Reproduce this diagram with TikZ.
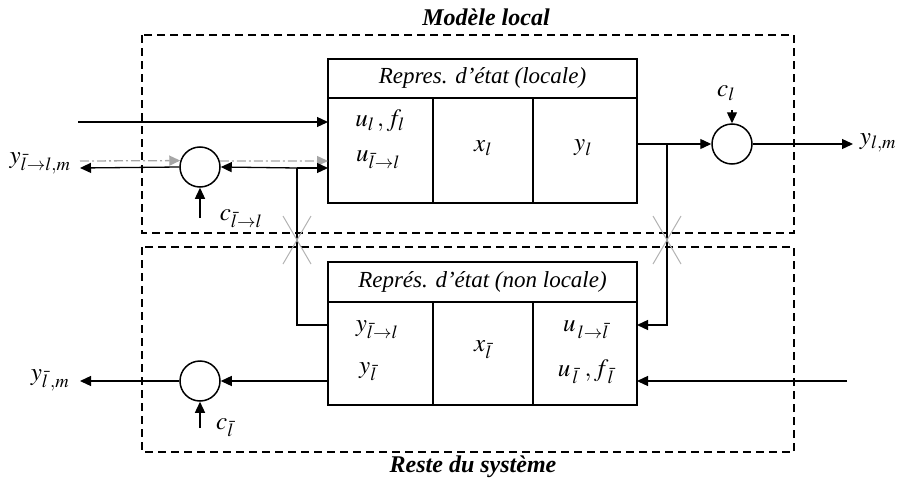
\documentclass[tikz,border=0pt]{standalone}
\usepackage[no-math]{fontspec}
\usepackage{mathptmx}
\setmainfont{Liberation Serif}
\usetikzlibrary{arrows.meta}
\tikzset{
  wire/.style={line width=1.3pt},
  arr/.style={wire,-{Triangle[length=11pt,width=10pt]}},
  garr/.style={line width=1.3pt,gray!70,dash pattern=on 9pt off 3pt on 2pt off 3pt,-{Triangle[length=11pt,width=10pt]}},
  frame/.style={line width=2pt,dash pattern=on 8pt off 5pt},
  blk/.style={draw,line width=1.3pt,minimum width=309pt,inner sep=0pt},
  sumnode/.style={circle,draw,line width=1.5pt,minimum size=40pt,inner sep=0pt},
  cross/.style={gray!60,line width=1pt},
  lbl/.style={inner sep=1pt,font=\fontsize{25}{29}\selectfont},
  ttl/.style={inner sep=1pt,font=\fontsize{23}{27}\selectfont\itshape},
  hd/.style={inner sep=1pt,font=\fontsize{24}{28}\selectfont\bfseries\itshape}
}
\begin{document}
\begin{tikzpicture}[x=1pt,y=-1pt]
\useasboundingbox (0,0) rectangle (900,479);
% dashed frames
\draw[frame] (142,35) rectangle (794,233);
\draw[frame] (142,247) rectangle (794,452);
\node[hd] (hm) at (486,17) {Modèle local};
\node[hd] (hr) at (473,467) {Reste du système};
% top block
\node[blk,minimum height=144pt] (tb) at (482.5,131) {};
\draw[line width=1.8pt] (328,98) -- (637,98);
\draw[line width=1.8pt] (433,98) -- (433,203);
\draw[line width=1.8pt] (533,98) -- (533,203);
\node[ttl] (tbt) at (482.5,78) {Repres. d’état (locale)};
\node[lbl] (t1) at (380,121) {$u_l\,, f_l$};
\node[lbl] (t2) at (378,160) {$u_{\bar{l}\to l}$};
\node[lbl] (t3) at (483,148) {$x_l$};
\node[lbl] (t4) at (583,148) {$y_l$};
% bottom block
\node[blk,minimum height=143pt] (bb) at (482.5,333.5) {};
\draw[line width=1.8pt] (328,302) -- (637,302);
\draw[line width=1.8pt] (433,302) -- (433,405);
\draw[line width=1.8pt] (533,302) -- (533,405);
\node[ttl] (bbt) at (482.5,282) {Représ. d’état (non locale)};
\node[lbl] (b1) at (377,330) {$y_{\bar{l}\to l}$};
\node[lbl] (b2) at (368,372) {$y_{\bar{l}}$};
\node[lbl] (b3) at (483,350) {$x_{\bar{l}}$};
\node[lbl] (b4) at (586,330) {$u_{\,l\to \bar{l}}$};
\node[lbl] (b5) at (586,372) {$u_{\,\bar{l}}\;, f_{\,\bar{l}}$};
% summing junctions
\node[sumnode] (c1) at (200,167) {};
\node[sumnode] (c2) at (732,144) {};
\node[sumnode] (c3) at (200,381) {};
% coordinates
\coordinate (inA) at (78,122);
\coordinate (tbA) at (328,122);
\coordinate (tbB) at (328,168);
\coordinate (tbG) at (328,161);
\coordinate (gL) at (80,161);
\coordinate (oL) at (80,168);
\coordinate (j1) at (297,168);
\coordinate (j1b) at (297,325);
\coordinate (bbA) at (328,325);
\coordinate (cin1) at (200,218);
\coordinate (tbO) at (637,144);
\coordinate (j2) at (667,144);
\coordinate (j2b) at (667,325);
\coordinate (bbR) at (637,325);
\coordinate (cin2) at (732,110);
\coordinate (oR) at (853,144);
\coordinate (inR) at (847,381);
\coordinate (bbF) at (637,381);
\coordinate (bbL) at (328,381);
\coordinate (oL2) at (80,381);
\coordinate (cin3) at (200,428);
% connectors
\draw[arr] (inA) -- (tbA);
\draw[garr] (gL) -- (c1.162.5);
\draw[garr] (c1.17.5) -- (tbG);
\draw[arr] (c1.west) -- (oL);
\draw[arr] (j1) -- (c1.east);
\draw[arr] (j1) -- (tbB);
\draw[wire] (bbA) -- (j1b) -- (j1);
\draw[arr] (cin1) -- (c1.south);
\draw[arr] (tbO) -- (c2.west);
\draw[arr] (j2) -- (j2b) -- (bbR);
\draw[arr] (cin2) -- (c2.north);
\draw[arr] (c2.east) -- (oR);
\draw[arr] (inR) -- (bbF);
\draw[arr] (bbL) -- (c3.east);
\draw[arr] (c3.west) -- (oL2);
\draw[arr] (cin3) -- (c3.south);
% crossing marks
\draw[cross] (283,216) -- (311,264) (311,216) -- (283,264);
\draw[cross] (653,216) -- (681,264) (681,216) -- (653,264);
% labels
\node[lbl] (ly1) at (40,163) {$y_{\bar{l}\to l,m}$};
\node[lbl] (lc1) at (241,219) {$c_{\bar{l}\to l}$};
\node[lbl] (lc2) at (726,93) {$c_l$};
\node[lbl] (ly2) at (878,143) {$y_{l,m}$};
\node[lbl] (ly3) at (50,380) {$y_{\bar{l}\,,m}$};
\node[lbl] (lc3) at (225,428) {$c_{\bar{l}}$};
\end{tikzpicture}
\end{document}
